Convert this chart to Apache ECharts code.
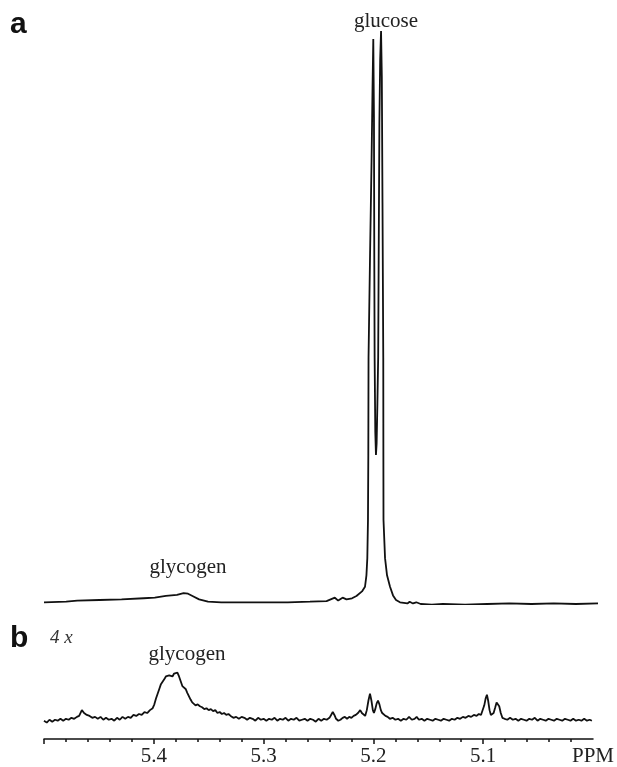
<!DOCTYPE html>
<html>
<head>
<meta charset="utf-8">
<script src="https://cdn.jsdelivr.net/npm/echarts@6/dist/echarts.min.js"></script>
<style>
  html, body { margin: 0; padding: 0; background: #fff; }
  #chart { width: 617px; height: 767px; }
</style>
</head>
<body>
<div id="chart"></div>
<script>
// spectrum a: [chemical shift (ppm), intensity] with the glucose doublet at 100
const spectrumA = [
  [5.500, 0.3], [5.480, 0.4], [5.470, 0.6], [5.450, 0.7], [5.430, 0.8],
  [5.410, 1.0], [5.400, 1.1], [5.390, 1.4], [5.380, 1.6], [5.374, 1.9],
  [5.370, 1.8], [5.366, 1.4], [5.360, 0.8], [5.352, 0.4], [5.340, 0.3],
  [5.320, 0.3], [5.300, 0.3], [5.280, 0.3], [5.260, 0.4], [5.245, 0.5],
  [5.2375, 1.1], [5.2345, 0.6], [5.2305, 1.1], [5.227, 0.8], [5.222, 1.0],
  [5.218, 1.4], [5.2166, 1.6], [5.213, 2.2], [5.2103, 3.0], [5.209, 5.0],
  [5.2082, 8.0], [5.2076, 14.7], [5.2073, 26], [5.2071, 43], [5.2058, 60],
  [5.2044, 77], [5.2035, 90], [5.2028, 98.6], [5.2022, 85], [5.2019, 60],
  [5.2016, 43], [5.2010, 30], [5.2004, 26], [5.1998, 28], [5.1991, 35],
  [5.1984, 43], [5.1973, 84], [5.1966, 95], [5.1958, 100], [5.1951, 92],
  [5.1945, 70], [5.1938, 43], [5.1937, 26], [5.1936, 14.7], [5.1922, 8],
  [5.1904, 5], [5.1877, 3], [5.1850, 1.5], [5.1823, 0.7], [5.1787, 0.3],
  [5.172, 0.1], [5.170, 0.4], [5.167, 0.1], [5.164, 0.3], [5.160, 0.0],
  [5.150, -0.1], [5.140, 0.0], [5.120, -0.1], [5.100, 0.0], [5.080, 0.1],
  [5.060, 0.0], [5.040, 0.1], [5.020, 0.0], [5.000, 0.1]
];

// spectrum b: same region, vertical scale x4
const spectrumB = [
  [5.5000, 19], [5.4975, 17], [5.4950, 20], [5.4925, 18], [5.4900, 20],
  [5.4875, 19], [5.4850, 21], [5.4825, 19], [5.4800, 21], [5.4775, 20],
  [5.4750, 22], [5.4725, 21], [5.4700, 23], [5.4680, 24], [5.4655, 30],
  [5.4635, 27], [5.4610, 25], [5.4585, 24], [5.4560, 22], [5.4535, 23],
  [5.4510, 21], [5.4485, 23], [5.4460, 20], [5.4435, 22], [5.4410, 20],
  [5.4385, 21], [5.4360, 19], [5.4335, 22], [5.4310, 20], [5.4285, 23],
  [5.4260, 21], [5.4235, 23], [5.4210, 22], [5.4185, 25], [5.4160, 24],
  [5.4135, 26], [5.4110, 25], [5.4085, 28], [5.4060, 27], [5.4035, 30],
  [5.4010, 32], [5.3995, 36], [5.3980, 42], [5.3965, 47], [5.3950, 52],
  [5.3935, 57], [5.3920, 59], [5.3905, 62], [5.3890, 65], [5.3875, 64],
  [5.3860, 66], [5.3845, 67], [5.3830, 65], [5.3815, 68], [5.3800, 70],
  [5.3785, 69], [5.3770, 65], [5.3755, 60], [5.3740, 55], [5.3725, 56],
  [5.3710, 52], [5.3695, 48], [5.3680, 47], [5.3665, 41], [5.3650, 38],
  [5.3635, 37], [5.3620, 35], [5.3600, 36], [5.3580, 34], [5.3560, 33],
  [5.3540, 31], [5.3520, 32], [5.3500, 30], [5.3480, 31], [5.3460, 29],
  [5.3440, 30], [5.3420, 27], [5.3400, 28], [5.3380, 26], [5.3360, 27],
  [5.3340, 25], [5.3320, 26], [5.3300, 24], [5.3275, 22], [5.3250, 23],
  [5.3225, 21], [5.3200, 23], [5.3175, 22], [5.3150, 20], [5.3125, 22],
  [5.3100, 21], [5.3075, 19], [5.3050, 22], [5.3025, 20], [5.3000, 21],
  [5.2975, 19], [5.2950, 21], [5.2925, 20], [5.2900, 22], [5.2875, 19],
  [5.2850, 21], [5.2825, 20], [5.2800, 22], [5.2775, 19], [5.2750, 21],
  [5.2725, 20], [5.2700, 22], [5.2675, 19], [5.2650, 20], [5.2625, 21],
  [5.2600, 19], [5.2575, 21], [5.2550, 20], [5.2525, 18], [5.2500, 21],
  [5.2475, 19], [5.2450, 21], [5.2425, 20], [5.2400, 22], [5.2385, 25],
  [5.2370, 28], [5.2355, 25], [5.2340, 21], [5.2320, 19], [5.2300, 20],
  [5.2280, 22], [5.2260, 23], [5.2240, 21], [5.2220, 23], [5.2200, 22],
  [5.2180, 24], [5.2160, 25], [5.2140, 27], [5.2120, 30], [5.2105, 27],
  [5.2090, 25], [5.2075, 24], [5.2060, 30], [5.2045, 40], [5.2031, 47],
  [5.2018, 40], [5.2005, 30], [5.1995, 27], [5.1983, 31], [5.1970, 37],
  [5.1958, 40], [5.1945, 36], [5.1932, 30], [5.1920, 27], [5.1905, 26],
  [5.1890, 24], [5.1870, 23], [5.1850, 21], [5.1825, 22], [5.1800, 20],
  [5.1775, 21], [5.1750, 19], [5.1725, 21], [5.1700, 20], [5.1675, 23],
  [5.1650, 20], [5.1625, 21], [5.1606, 23], [5.1585, 20], [5.1560, 21],
  [5.1535, 19], [5.1510, 21], [5.1485, 20], [5.1460, 19], [5.1435, 21],
  [5.1410, 20], [5.1385, 19], [5.1360, 21], [5.1335, 20], [5.1310, 19],
  [5.1285, 21], [5.1260, 20], [5.1235, 22], [5.1210, 21], [5.1185, 23],
  [5.1160, 22], [5.1135, 24], [5.1110, 23], [5.1085, 25], [5.1060, 24],
  [5.1040, 26], [5.1020, 25], [5.1005, 27], [5.0990, 35], [5.0978, 42],
  [5.0966, 46], [5.0955, 40], [5.0942, 30], [5.0930, 25], [5.0918, 24],
  [5.0905, 27], [5.0890, 33], [5.0878, 38], [5.0866, 39], [5.0854, 34],
  [5.0840, 27], [5.0825, 22], [5.0805, 21], [5.0780, 20], [5.0755, 22],
  [5.0730, 20], [5.0705, 21], [5.0680, 19], [5.0655, 21], [5.0630, 20],
  [5.0605, 19], [5.0580, 21], [5.0555, 20], [5.0530, 22], [5.0505, 19],
  [5.0480, 21], [5.0455, 20], [5.0430, 19], [5.0405, 21], [5.0380, 20],
  [5.0355, 19], [5.0330, 21], [5.0305, 20], [5.0280, 19], [5.0255, 21],
  [5.0230, 20], [5.0205, 19], [5.0180, 21], [5.0155, 19], [5.0130, 20],
  [5.0105, 19], [5.0080, 21], [5.0055, 19], [5.0030, 20], [5.0010, 19]
];

const majorTicks = [5.5, 5.4, 5.3, 5.2, 5.1];
const tickLabels = [5.4, 5.3, 5.2, 5.1, 5.0]; // 5.0 is written as PPM

const serif = "'Liberation Serif', 'Times New Roman', serif";

const chart = echarts.init(document.getElementById("chart"), null, { renderer: "canvas" });

chart.setOption({
  animation: false,
  backgroundColor: "#fff",
  grid: [
    { left: 44, right: 19, top: 31, bottom: 163 },
    { left: 44, right: 19, top: 662, bottom: 25 }
  ],
  xAxis: [
    {
      gridIndex: 0, type: "value", min: 5.0, max: 5.5, inverse: true,
      axisLine: { show: false }, axisTick: { show: false },
      axisLabel: { show: false }, splitLine: { show: false }
    },
    {
      gridIndex: 1, type: "value", min: 5.0, max: 5.5, interval: 0.1, inverse: true,
      axisLine: { show: true, onZero: false, lineStyle: { color: "#111", width: 1.5 } },
      axisTick: { show: true, length: 5, customValues: majorTicks, lineStyle: { color: "#111", width: 1.5 } },
      minorTick: { show: true, splitNumber: 5, length: 3, lineStyle: { color: "#111", width: 1.5 } },
      splitLine: { show: false },
      axisLabel: {
        margin: 7, color: "#222", fontFamily: serif, fontSize: 21,
        customValues: tickLabels,
        formatter: v => (v < 5.05 ? "PPM" : v.toFixed(1))
      }
    }
  ],
  yAxis: [
    { gridIndex: 0, type: "value", min: 0, max: 100, show: false },
    { gridIndex: 1, type: "value", min: 0, max: 80, show: false }
  ],
  series: [
    {
      type: "line", xAxisIndex: 0, yAxisIndex: 0, data: spectrumA,
      symbol: "none", lineStyle: { color: "#111", width: 1.8 }
    },
    {
      type: "line", xAxisIndex: 1, yAxisIndex: 1, data: spectrumB,
      symbol: "none", lineStyle: { color: "#111", width: 1.8 }
    }
  ],
  graphic: [
    { type: "text", left: 10, top: 10, style: { text: "a", font: "bold 30px 'Liberation Sans', Arial, sans-serif", fill: "#111" } },
    { type: "text", left: 10, top: 624, style: { text: "b", font: "bold 30px 'Liberation Sans', Arial, sans-serif", fill: "#111" } },
    { type: "text", left: 50, top: 628, style: { text: "4 x", font: "italic 19px " + serif, fill: "#333" } },
    { type: "text", x: 386, y: 21, style: { text: "glucose", font: "21px " + serif, fill: "#222", align: "center", verticalAlign: "middle" } },
    { type: "text", x: 188, y: 567, style: { text: "glycogen", font: "21px " + serif, fill: "#222", align: "center", verticalAlign: "middle" } },
    { type: "text", x: 187, y: 654, style: { text: "glycogen", font: "21px " + serif, fill: "#222", align: "center", verticalAlign: "middle" } }
  ]
});
</script>
</body>
</html>
